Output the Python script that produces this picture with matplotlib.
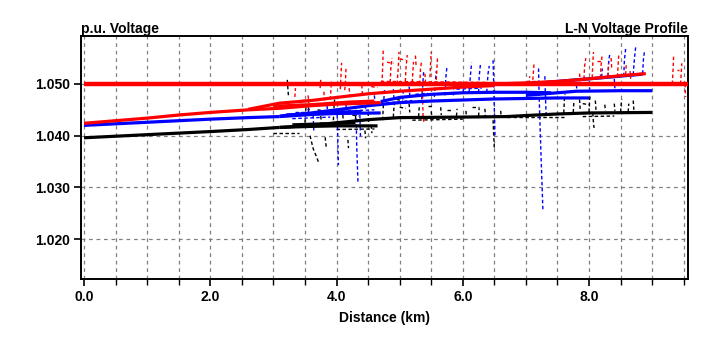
import matplotlib
matplotlib.use("Agg")
import matplotlib.pyplot as plt
from matplotlib.ticker import MultipleLocator, FixedLocator

plt.rcParams['font.family'] = ['Liberation Sans', 'DejaVu Sans']

# ---------------- data (distance km, voltage p.u.) ----------------
# Primary (solid) lines
red_source_x = [0.0, 9.6]
red_source_y = [1.0500, 1.0500]

red_trunk_x = [0.0, 0.5, 1.0, 1.5, 2.0, 2.6]
red_trunk_y = [1.0424, 1.0429, 1.0434, 1.0440, 1.0445, 1.0450]
red_low_x = [2.6, 3.1, 3.6, 4.0, 4.7]
red_low_y = [1.0450, 1.0453, 1.0458, 1.0461, 1.0464]
red_up_x = [2.6, 3.1, 3.6, 4.0, 4.5, 5.0, 5.5, 6.0, 6.5]
red_up_y = [1.0451, 1.0463, 1.0468, 1.0474, 1.0481, 1.0486, 1.0490, 1.0494, 1.0497]
red_far_x = [6.5, 7.0, 7.5, 8.0, 8.5, 8.9]
red_far_y = [1.0500, 1.0502, 1.0505, 1.0510, 1.0516, 1.0520]
red_side_x = [3.0, 3.6, 4.2, 4.6]
red_side_y = [1.0457, 1.0460, 1.0465, 1.0467]

blue_trunk_x = [0.0, 0.5, 1.0, 1.5, 2.0, 2.6, 3.1]
blue_trunk_y = [1.0420, 1.0423, 1.0426, 1.0429, 1.0432, 1.0435, 1.0437]
blue_low_x = [3.1, 3.6, 4.0, 4.7]
blue_low_y = [1.0437, 1.0441, 1.0443, 1.0444]
blue_mid_x = [3.1, 3.6, 4.0, 4.5, 5.0, 5.5, 6.0, 6.5, 7.0, 7.5, 8.0]
blue_mid_y = [1.0438, 1.0444, 1.0450, 1.0458, 1.0464, 1.0467, 1.0469, 1.0471, 1.0472, 1.0473, 1.0473]
blue_up_x = [4.7, 5.0, 5.5, 6.0, 6.5, 7.0, 7.4]
blue_up_y = [1.0466, 1.0474, 1.0480, 1.0483, 1.0484, 1.0484, 1.0483]
blue_end_x = [7.0, 7.8, 8.5, 9.0]
blue_end_y = [1.0478, 1.0486, 1.0487, 1.0487]
blue_top_x = [7.0, 7.6, 8.2, 8.85]
blue_top_y = [1.0500, 1.0506, 1.0512, 1.0519]
blue_side_x = [3.2, 3.8, 4.4]
blue_side_y = [1.0440, 1.0444, 1.0447]

black_trunk_x = [0.0, 0.5, 1.0, 1.5, 2.0, 2.6, 3.1]
black_trunk_y = [1.0396, 1.0399, 1.0402, 1.0405, 1.0408, 1.0412, 1.0416]
black_low_x = [3.1, 3.6, 4.0, 4.65]
black_low_y = [1.0416, 1.0418, 1.0419, 1.0419]
black_up_x = [3.1, 3.6, 4.0, 4.5, 5.0, 6.0, 6.7, 7.0, 7.5, 8.0, 9.0]
black_up_y = [1.0416, 1.0420, 1.0425, 1.0431, 1.0435, 1.0436, 1.0437, 1.0439, 1.0442, 1.0444, 1.0445]
black_side_x = [3.3, 3.8, 4.3]
black_side_y = [1.0421, 1.0423, 1.0425]

# Secondary (dashed) lines: lists of (km, p.u.) points
red_secondary = [
    [(3.34, 1.0475), (3.35, 1.0492)],
    [(3.74, 1.0492), (3.75, 1.0508)],
    [(4.06, 1.0490), (4.07, 1.0515), (4.08, 1.0541)],
    [(4.13, 1.0488), (4.14, 1.0500), (4.15, 1.0530)],
    [(3.90, 1.0470), (3.92, 1.0505)],
    [(4.72, 1.0500), (4.73, 1.0530), (4.74, 1.0566)],
    [(4.85, 1.0503), (4.86, 1.0530), (4.88, 1.0550)],
    [(4.96, 1.0500), (4.98, 1.0535), (4.99, 1.0562)],
    [(5.09, 1.0505), (5.10, 1.0530), (5.12, 1.0556)],
    [(5.20, 1.0503), (5.21, 1.0525), (5.22, 1.0543)],
    [(5.32, 1.0500), (5.33, 1.0530), (5.35, 1.0546)],
    [(5.48, 1.0513), (5.49, 1.0540), (5.50, 1.0562)],
    [(5.58, 1.0508), (5.59, 1.0530), (5.60, 1.0550)],
    [(7.11, 1.0508), (7.12, 1.0525), (7.13, 1.0541)],
    [(7.05, 1.0500), (7.06, 1.0515)],
    [(7.92, 1.0510), (7.93, 1.0535), (7.95, 1.0550)],
    [(8.05, 1.0512), (8.06, 1.0540), (8.07, 1.0562)],
    [(8.18, 1.0512), (8.19, 1.0535), (8.21, 1.0558)],
    [(8.30, 1.0515), (8.31, 1.0540)],
    [(8.45, 1.0514), (8.46, 1.0535), (8.47, 1.0555)],
    [(8.58, 1.0518), (8.59, 1.0538)],
    [(9.32, 1.0500), (9.33, 1.0525), (9.34, 1.0553)],
    [(9.45, 1.0500), (9.46, 1.0520), (9.47, 1.0540)],
    [(9.52, 1.0500), (9.53, 1.0475)],
    [(3.45, 1.0468), (3.70, 1.0470)],
    [(4.30, 1.0478), (4.60, 1.0482)],
    [(5.36, 1.0490), (5.37, 1.0440), (5.38, 1.0427)],
    [(3.55, 1.0478), (3.56, 1.0462)],
    [(3.80, 1.0485), (3.81, 1.0468)],
    [(4.20, 1.0492), (4.21, 1.0475)],
    [(4.40, 1.0498), (4.41, 1.0480)],
    [(4.55, 1.0495), (4.65, 1.0493)],
    [(4.80, 1.0542), (4.90, 1.0540)],
    [(5.00, 1.0548), (5.10, 1.0547)],
    [(5.25, 1.0555), (5.26, 1.0536)],
    [(5.40, 1.0520), (5.41, 1.0505)],
    [(7.00, 1.0505), (7.15, 1.0505)],
    [(7.85, 1.0520), (7.86, 1.0505)],
    [(8.12, 1.0545), (8.20, 1.0545)],
    [(8.35, 1.0550), (8.36, 1.0530)],
    [(8.65, 1.0525), (8.66, 1.0510)],
    [(9.40, 1.0528), (9.42, 1.0528)],
    [(4.70, 1.0505), (6.40, 1.0503)],
]

blue_secondary = [
    [(4.01, 1.0440), (4.02, 1.0395), (4.03, 1.0343)],
    [(4.31, 1.0445), (4.32, 1.0380), (4.34, 1.0309)],
    [(4.37, 1.0440), (4.38, 1.0395)],
    [(3.63, 1.0440), (3.64, 1.0410)],
    [(5.35, 1.0470), (5.37, 1.0505), (5.38, 1.0525)],
    [(5.55, 1.0475), (5.57, 1.0510), (5.58, 1.0525)],
    [(5.72, 1.0478), (5.73, 1.0510), (5.75, 1.0535)],
    [(5.85, 1.0478), (5.86, 1.0505)],
    [(6.10, 1.0483), (6.12, 1.0515), (6.14, 1.0541)],
    [(6.25, 1.0484), (6.26, 1.0515), (6.28, 1.0538)],
    [(6.38, 1.0484), (6.40, 1.0520), (6.42, 1.0535)],
    [(6.48, 1.0546), (6.49, 1.0500), (6.50, 1.0450), (6.51, 1.0401)],
    [(7.20, 1.0530), (7.21, 1.0475), (7.24, 1.0360), (7.27, 1.0254)],
    [(7.30, 1.0515), (7.31, 1.0475), (7.32, 1.0440)],
    [(8.30, 1.0515), (8.31, 1.0540), (8.33, 1.0560)],
    [(8.55, 1.0515), (8.56, 1.0545), (8.58, 1.0568)],
    [(8.70, 1.0518), (8.72, 1.0550), (8.74, 1.0572)],
    [(8.85, 1.0520), (8.86, 1.0545), (8.88, 1.0565)],
    [(8.20, 1.0513), (8.21, 1.0530)],
    [(4.75, 1.0470), (4.76, 1.0490)],
    [(5.05, 1.0470), (5.06, 1.0492)],
    [(3.30, 1.0433), (3.90, 1.0436)],
    [(3.80, 1.0446), (4.60, 1.0450)],
    [(4.50, 1.0460), (5.20, 1.0468)],
    [(3.35, 1.0445), (3.50, 1.0445)],
    [(3.55, 1.0452), (3.56, 1.0440)],
    [(3.85, 1.0458), (3.86, 1.0443)],
    [(4.15, 1.0460), (4.16, 1.0445)],
    [(4.45, 1.0468), (4.46, 1.0452)],
    [(4.60, 1.0478), (4.61, 1.0460)],
    [(4.90, 1.0490), (4.91, 1.0472)],
    [(5.15, 1.0495), (5.16, 1.0478)],
    [(5.25, 1.0480), (5.45, 1.0482)],
    [(5.90, 1.0490), (6.30, 1.0492)],
    [(6.00, 1.0500), (6.01, 1.0485)],
    [(7.80, 1.0498), (7.81, 1.0486)],
    [(8.00, 1.0505), (8.01, 1.0490)],
    [(8.40, 1.0510), (8.41, 1.0490)],
]

black_secondary = [
    [(3.22, 1.0508), (3.23, 1.0490), (3.24, 1.0475)],
    [(3.58, 1.0400), (3.63, 1.0375), (3.68, 1.0360), (3.72, 1.0347)],
    [(3.82, 1.0397), (3.83, 1.0385), (3.84, 1.0376)],
    [(4.18, 1.0392), (4.19, 1.0376)],
    [(4.45, 1.0410), (4.46, 1.0395)],
    [(6.48, 1.0430), (6.49, 1.0400), (6.50, 1.0376)],
    [(8.06, 1.0444), (8.07, 1.0425), (8.08, 1.0415)],
    [(7.60, 1.0444), (7.61, 1.0470), (7.62, 1.0480)],
    [(7.75, 1.0445), (7.76, 1.0465)],
    [(8.00, 1.0446), (8.01, 1.0470), (8.02, 1.0478)],
    [(8.50, 1.0446), (8.51, 1.0462), (8.52, 1.0470)],
    [(8.62, 1.0446), (8.63, 1.0462)],
    [(3.50, 1.0425), (3.51, 1.0445), (3.52, 1.0460)],
    [(3.95, 1.0430), (3.96, 1.0455), (3.97, 1.0470)],
    [(4.30, 1.0432), (4.31, 1.0450)],
    [(4.90, 1.0436), (4.91, 1.0455), (4.92, 1.0465)],
    [(5.30, 1.0437), (5.31, 1.0455)],
    [(5.90, 1.0438), (5.91, 1.0452)],
    [(6.25, 1.0438), (6.26, 1.0453)],
    [(4.73, 1.0430), (4.74, 1.0455), (4.75, 1.0470)],
    [(3.00, 1.0405), (3.40, 1.0405)],
    [(4.00, 1.0412), (4.60, 1.0413)],
    [(5.20, 1.0430), (6.00, 1.0432)],
    [(6.70, 1.0436), (7.60, 1.0436)],
    [(3.40, 1.0462), (3.48, 1.0462)],
    [(3.55, 1.0455), (3.60, 1.0440)],
    [(3.70, 1.0450), (3.80, 1.0448)],
    [(3.75, 1.0438), (3.76, 1.0425)],
    [(4.05, 1.0448), (4.15, 1.0446)],
    [(4.10, 1.0440), (4.11, 1.0425)],
    [(4.25, 1.0440), (4.35, 1.0438)],
    [(4.50, 1.0445), (4.51, 1.0425)],
    [(4.55, 1.0420), (4.56, 1.0405)],
    [(4.95, 1.0470), (5.05, 1.0468)],
    [(5.00, 1.0455), (5.10, 1.0453)],
    [(5.15, 1.0462), (5.16, 1.0445)],
    [(5.45, 1.0458), (5.55, 1.0458)],
    [(5.50, 1.0447), (5.51, 1.0435)],
    [(5.65, 1.0455), (5.66, 1.0440)],
    [(5.75, 1.0450), (5.85, 1.0450)],
    [(6.05, 1.0448), (6.06, 1.0435)],
    [(6.15, 1.0455), (6.25, 1.0455)],
    [(6.35, 1.0452), (6.36, 1.0438)],
    [(6.60, 1.0448), (6.61, 1.0436)],
    [(7.85, 1.0470), (7.86, 1.0450)],
    [(7.90, 1.0462), (8.00, 1.0460)],
    [(8.10, 1.0468), (8.11, 1.0450)],
    [(8.25, 1.0460), (8.26, 1.0448)],
    [(8.40, 1.0462), (8.41, 1.0448)],
    [(8.70, 1.0468), (8.71, 1.0450)],
    [(7.90, 1.0437), (8.40, 1.0438)],
]

x_major = [0.0, 2.0, 4.0, 6.0, 8.0]
x_labels = ["0.0", "2.0", "4.0", "6.0", "8.0"]
y_major = [1.020, 1.030, 1.040, 1.050]
y_labels = ["1.020", "1.030", "1.040", "1.050"]

# ---------------- plot ----------------
fig = plt.figure(figsize=(7.27, 3.59), dpi=100)
ax = fig.add_axes([81 / 727, 1 - 279 / 359, 607 / 727, 243 / 359])

RED, BLUE, BLACK = '#ff0000', '#0000ff', '#000000'
lw_p = 2.3

def sec(ax, segs, color):
    for s in segs:
        xs = [p[0] for p in s]
        ys = [p[1] for p in s]
        ax.plot(xs, ys, color=color, lw=1.0, linestyle=(0, (2.5, 1.8)), zorder=3)

sec(ax, black_secondary, BLACK)
sec(ax, blue_secondary, BLUE)
sec(ax, red_secondary, RED)

for xs, ys in [(black_trunk_x, black_trunk_y), (black_low_x, black_low_y), (black_up_x, black_up_y),
               (black_side_x, black_side_y)]:
    ax.plot(xs, ys, color=BLACK, lw=lw_p, solid_capstyle='butt', zorder=4)
for xs, ys in [(blue_trunk_x, blue_trunk_y), (blue_low_x, blue_low_y), (blue_mid_x, blue_mid_y),
               (blue_up_x, blue_up_y), (blue_end_x, blue_end_y), (blue_top_x, blue_top_y),
               (blue_side_x, blue_side_y)]:
    ax.plot(xs, ys, color=BLUE, lw=lw_p, solid_capstyle='butt', zorder=4)
for xs, ys in [(red_trunk_x, red_trunk_y), (red_low_x, red_low_y), (red_up_x, red_up_y),
               (red_far_x, red_far_y), (red_side_x, red_side_y)]:
    ax.plot(xs, ys, color=RED, lw=lw_p, solid_capstyle='butt', zorder=4)
ax.plot(red_source_x, red_source_y, color=RED, lw=3.2, solid_capstyle='butt', zorder=5)

ax.set_xlim(-0.048, 9.568)
ax.set_ylim(1.01229, 1.05928)

ax.xaxis.set_major_locator(FixedLocator(x_major))
ax.set_xticklabels(x_labels)
ax.xaxis.set_minor_locator(MultipleLocator(0.5))
ax.yaxis.set_major_locator(FixedLocator(y_major))
ax.set_yticklabels(y_labels)

ax.grid(True, which='major', axis='both', color='#808080', linestyle=(0, (3, 3)), lw=0.9)
ax.grid(True, which='minor', axis='x', color='#808080', linestyle=(0, (3, 3)), lw=0.9)

ax.tick_params(axis='both', which='major', direction='out', length=5, width=1.2,
               labelsize=10, pad=3)
ax.tick_params(axis='x', which='minor', direction='out', length=4, width=1.0)
for lab in ax.get_xticklabels() + ax.get_yticklabels():
    lab.set_fontweight('bold')

for sp in ax.spines.values():
    sp.set_linewidth(1.4)
    sp.set_color('black')

ax.set_xlabel("Distance (km)", fontsize=10, fontweight='bold', labelpad=5)
fig.text(81 / 727, 1 - 33 / 359, "p.u. Voltage", fontsize=10, fontweight='bold',
         ha='left', va='baseline')
fig.text(688 / 727, 1 - 33 / 359, "L-N Voltage Profile", fontsize=10, fontweight='bold',
         ha='right', va='baseline')

fig.savefig("out.png", dpi=100)
